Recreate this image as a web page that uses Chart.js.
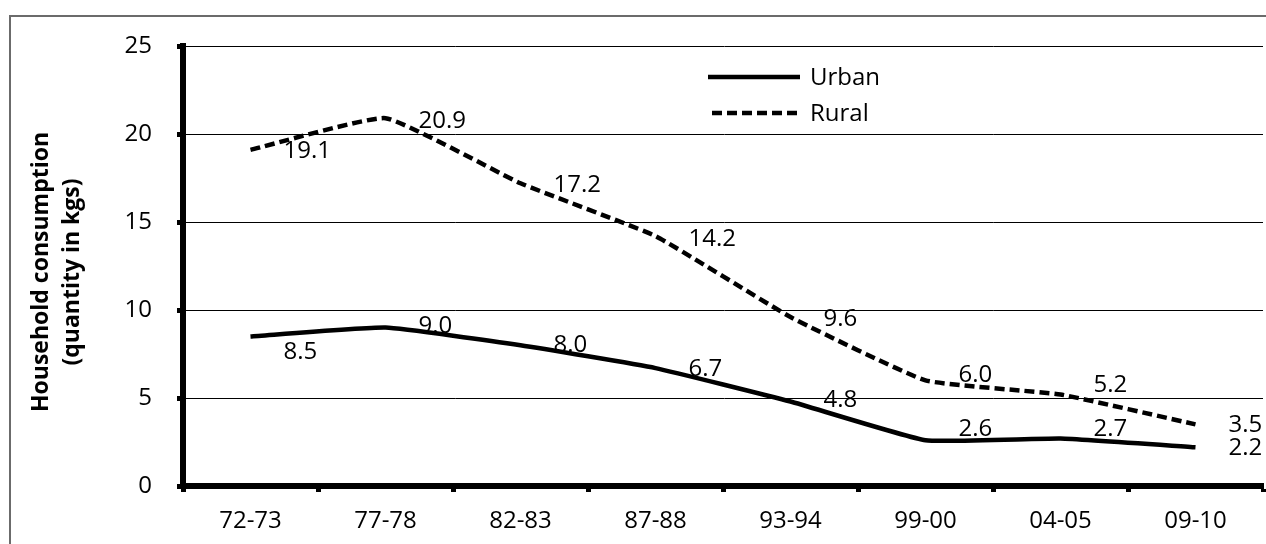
<!DOCTYPE html>
<html>
<head>
<meta charset="utf-8">
<script src="https://cdn.jsdelivr.net/npm/chart.js@4.4.1/dist/chart.umd.min.js"></script>
<style>
  html, body { margin: 0; padding: 0; background: #fff; }
  #wrap { width: 1266px; height: 544px; position: relative; }
</style>
</head>
<body>
<div id="wrap"><canvas id="c" width="1266" height="544"></canvas></div>
<script>
// Survey periods and per-capita household consumption (kg)
const periods = ['72-73', '77-78', '82-83', '87-88', '93-94', '99-00', '04-05', '09-10'];
const urban = [8.5, 9.0, 8.0, 6.7, 4.8, 2.6, 2.7, 2.2];
const rural = [19.1, 20.9, 17.2, 14.2, 9.6, 6.0, 5.2, 3.5];
const yTicks = [0, 5, 10, 15, 20, 25];
const seriesNames = ['Urban', 'Rural'];
const axisTitle = ['Household consumption', '(quantity in kgs)'];

const FONT = "'Open Sans', 'Liberation Sans', sans-serif";

// Value labels sit to the right of each point; vertical nudges (px) keep them clear of the lines
const urbanLabelShift = [16, -1, 0, 1, -1, -11, -9, 1];
const ruralLabelShift = [1, 3, 2, 3, 2, -5, -9, 1];

const framePlugin = {
  id: 'frame',
  beforeDraw(chart) {
    const ctx = chart.ctx;
    ctx.save();
    ctx.strokeStyle = '#6b6b6b';
    ctx.lineWidth = 2;
    ctx.beginPath();
    ctx.moveTo(10, 544);
    ctx.lineTo(10, 16);
    ctx.lineTo(1266, 16);
    ctx.stroke();
    ctx.restore();
  }
};

const yTitlePlugin = {
  id: 'yTitle',
  afterDraw(chart) {
    const ctx = chart.ctx;
    ctx.save();
    ctx.translate(0, 272);
    ctx.rotate(-Math.PI / 2);
    ctx.fillStyle = '#000';
    ctx.font = `bold 23px ${FONT}`;
    ctx.textAlign = 'center';
    ctx.textBaseline = 'middle';
    ctx.fillText(axisTitle[0], 0, 41);
    ctx.fillText(axisTitle[1], 0, 72);
    ctx.restore();
  }
};

const legendPlugin = {
  id: 'lineLegend',
  afterDraw(chart) {
    const ctx = chart.ctx;
    ctx.save();
    ctx.font = `24px ${FONT}`;
    ctx.fillStyle = '#000';
    ctx.textAlign = 'left';
    ctx.textBaseline = 'middle';
    chart.data.datasets.forEach((ds, i) => {
      const y = 77 + i * 36;
      ctx.strokeStyle = ds.borderColor;
      ctx.lineWidth = ds.borderWidth;
      ctx.setLineDash(ds.borderDash || []);
      ctx.beginPath();
      ctx.moveTo(i === 0 ? 708 : 712, y);
      ctx.lineTo(800, y);
      ctx.stroke();
      ctx.setLineDash([]);
      ctx.fillText(ds.label, 810, y + 1);
    });
    ctx.restore();
  }
};

const valueLabelPlugin = {
  id: 'valueLabels',
  afterDatasetsDraw(chart) {
    const ctx = chart.ctx;
    const shifts = [urbanLabelShift, ruralLabelShift];
    ctx.save();
    ctx.font = `24px ${FONT}`;
    ctx.fillStyle = '#000';
    ctx.textAlign = 'left';
    ctx.textBaseline = 'middle';
    chart.data.datasets.forEach((ds, di) => {
      chart.getDatasetMeta(di).data.forEach((pt, j) => {
        ctx.fillText(ds.data[j].toFixed(1), pt.x + 33, pt.y + shifts[di][j]);
      });
    });
    ctx.restore();
  }
};

new Chart(document.getElementById('c'), {
  type: 'line',
  data: {
    labels: periods,
    datasets: [
      {
        label: seriesNames[0],
        data: urban,
        borderColor: '#000',
        borderWidth: 4.5,
        pointRadius: 0,
        tension: 0.12,
        fill: false
      },
      {
        label: seriesNames[1],
        data: rural,
        borderColor: '#000',
        borderWidth: 4.5,
        borderDash: [10, 5],
        pointRadius: 0,
        tension: 0.12,
        fill: false
      }
    ]
  },
  options: {
    responsive: false,
    animation: false,
    devicePixelRatio: 1,
    layout: { padding: { top: 46, right: 3, left: 0, bottom: 0 } },
    plugins: {
      legend: { display: false },
      tooltip: { enabled: false }
    },
    scales: {
      x: {
        type: 'category',
        offset: true,
        grid: {
          offset: true,
          drawOnChartArea: false,
          drawTicks: true,
          tickLength: 6,
          tickWidth: 5,
          tickColor: '#000'
        },
        border: { display: true, width: 6, color: '#000' },
        ticks: {
          color: '#000',
          font: { family: FONT, size: 24 },
          padding: 15,
          maxRotation: 0,
          autoSkip: false
        },
        afterFit(scale) { scale.height = 58; }
      },
      y: {
        min: 0,
        max: 25,
        afterBuildTicks(scale) { scale.ticks = yTicks.map(v => ({ value: v })); },
        grid: {
          color: '#000',
          lineWidth: 1,
          drawTicks: true,
          tickLength: 6,
          tickWidth: 5,
          tickColor: '#000'
        },
        border: { display: true, width: 6, color: '#000' },
        ticks: {
          color: '#000',
          font: { family: FONT, size: 24 },
          padding: 25
        },
        afterFit(scale) { scale.width = 183; }
      }
    }
  },
  plugins: [framePlugin, yTitlePlugin, legendPlugin, valueLabelPlugin]
});
</script>
</body>
</html>
